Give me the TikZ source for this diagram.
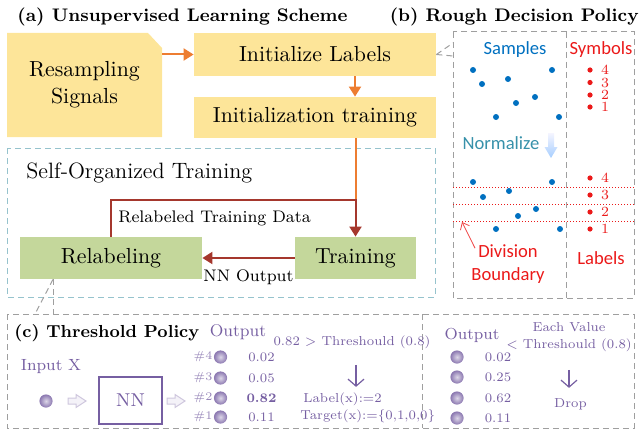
\documentclass[tikz,border=0pt]{standalone}
\usepackage{fontspec}
\newfontfamily\calibrifont{Carlito}
\usetikzlibrary{%
  arrows.meta,%
  calc,%
  positioning%
}
\definecolor{boxtan}{RGB}{253,229,153}
\definecolor{boxgreen}{RGB}{196,215,155}
\definecolor{flowor}{RGB}{237,125,49}
\definecolor{loopred}{RGB}{165,55,45}
\definecolor{teallight}{RGB}{150,195,205}
\definecolor{nnpurple}{RGB}{118,95,162}
\definecolor{dotblue}{RGB}{0,112,192}
\definecolor{symred}{RGB}{235,25,25}
\definecolor{normteal}{RGB}{55,145,170}
\tikzset{>=latex}
\tikzset{
  tanbox/.style={fill=boxtan, minimum width=121pt, inner sep=0pt,
    font=\fontsize{10.9}{13}\selectfont},
  greenbox/.style={fill=boxgreen, minimum height=21pt, inner sep=0pt,
    font=\fontsize{10.9}{13}\selectfont},
  titletext/.style={font=\fontsize{9.1}{11}\selectfont\bfseries, inner sep=0pt},
  plaintext/.style={font=\fontsize{8.4}{10}\selectfont, inner sep=0pt},
  sanstext/.style={font=\fontsize{9.3}{11.5}\selectfont\calibrifont,
    inner sep=0pt, align=center},
  numtext/.style={font=\fontsize{7}{8}\selectfont, text=symred, inner sep=0pt},
  purptext/.style={font=\fontsize{6.5}{8}\selectfont, text=nnpurple, inner sep=0pt},
  purpbig/.style={font=\fontsize{8.5}{10}\selectfont, text=nnpurple, inner sep=0pt},
  orangearr/.style={draw=flowor, line width=1pt, -{Triangle[length=5pt,width=6pt]}},
  redarr/.style={draw=loopred, line width=1pt, -{Triangle[length=5pt,width=6pt]}},
  greydash/.style={draw=gray!75, line width=0.5pt, dash pattern=on 3pt off 2pt},
  tealdash/.style={draw=teallight, line width=0.5pt, dash pattern=on 3pt off 2pt},
  reddots/.style={draw=symred, line width=0.5pt, densely dotted},
  redpointer/.style={draw=symred!80, line width=0.4pt, -{Straight Barb[length=3pt,width=5pt]}},
  purparr/.style={draw=nnpurple, line width=0.6pt, -{Straight Barb[length=3.5pt,width=8pt]}},
  blockarr/.style={fill=nnpurple!8, draw=nnpurple!35, line width=0.5pt},
  outball/.style={inner color=nnpurple!25, outer color=nnpurple!85}
}

\begin{document}
\begin{tikzpicture}[x=0.5pt,y=-0.5pt]
  \useasboundingbox (0,0) rectangle (640,433);

  % titles
  \node[titletext, anchor=west] (ta) at (17,17) {(a) Unsupervised Learning Scheme};
  \node[titletext, anchor=east] (tb) at (639,17) {(b) Rough Decision Policy};

  % (a) unsupervised learning scheme
  \fill[boxtan] (7,33) -- (148,33) -- (162,48) -- (162,137) -- (7,137) -- cycle;
  \node[font=\fontsize{10.9}{13.5}\selectfont, align=center, inner sep=0pt,
    minimum width=77.5pt, minimum height=52pt] (resamp) at (84.5,85) {Resampling\\Signals};
  \node[tanbox, minimum height=21.5pt] (init) at (315,54.5) {Initialize Labels};
  \node[tanbox, minimum height=20.5pt] (inittr) at (315,117.5) {Initialization training};
  \draw[orangearr] (resamp.east |- init.west) -- (init.west);
  \draw[orangearr] ([xshift=20pt]init.south) -- ([xshift=20pt]inittr.north);

  \draw[tealdash] (7,148) rectangle (435,297);
  \node[font=\fontsize{11.1}{13}\selectfont, inner sep=0pt, anchor=west] (selforg)
    at (26,173) {Self-Organized Training};
  \node[greenbox, minimum width=60.5pt] (train) at (355.5,258) {Training};
  \node[greenbox, minimum width=91pt] (relab) at (111,258) {Relabeling};
  \coordinate (turn) at (355.5,200);
  \draw[draw=flowor, line width=1pt] ([xshift=20.25pt]inittr.south) -- (turn);
  \draw[redarr] (relab.north) |- (turn) -- (train.north);
  \draw[redarr] (train.west) -- (relab.east);
  \node[plaintext, anchor=west] (reldata) at (118,218) {Relabeled Training Data};
  \node[plaintext, anchor=west] (nnout) at (203,277) {NN Output};

  % callouts
  \draw[greydash] (init.east) -- (453,43);
  \draw[greydash] (init.east) -- (453,56);
  \draw[greydash] ([xshift=-29pt]relab.south) -- (35,314);
  \draw[greydash] ([xshift=-29pt]relab.south) -- (53,314);

  % (b) rough decision policy
  \draw[greydash] (453,32) rectangle (634,298);
  \draw[greydash] (566,32) -- (566,298);
  \node[sanstext, text=dotblue] (samples) at (515,50) {Samples};
  \node[sanstext, text=symred] (symbols) at (601,50) {Symbols};
  \foreach \px/\py in {473/70,482/84,508/79,552/70,516/103,535/97,496/117,559/117}
    \fill[dotblue] (\px,\py) circle (1.5pt);
  \foreach \n/\py in {4/70,3/82.5,2/95,1/107}{
    \fill[symred] (590,\py) circle (1.3pt);
    \node[numtext] at (605,\py) {\n};
  }
  \node[sanstext, text=normteal] (norm) at (501,143) {Normalize};
  \shade[top color=blue!4, bottom color=cyan!45!blue!35] (548,133) -- (554,133) -- (554,147)
    -- (557.5,147) -- (551,158) -- (544.5,147) -- (548,147) -- cycle;
  \foreach \py in {187,204,221}
    \draw[reddots] (453,\py) -- (634,\py);
  \foreach \px/\py in {473/182,483/197,509/191,552/182,518/216,536/209,496/229,560/229}
    \fill[dotblue] (\px,\py) circle (1.5pt);
  \foreach \n/\py in {4/178,3/195,2/212,1/229}{
    \fill[symred] (590,\py) circle (1.3pt);
    \node[numtext] at (605,\py) {\n};
  }
  \node[sanstext, text=symred] (divb) at (508,264) {Division\\Boundary};
  \coordinate (divpt) at (462,222);
  \draw[redpointer] ([shift={(2pt,-2pt)}]divb.north west) -- (divpt);
  \node[sanstext, text=symred] (labels) at (601,258) {Labels};

  % (c) threshold policy
  \draw[greydash] (7,314) rectangle (634,428);
  \draw[greydash] (422,314) -- (422,428);
  \node[titletext, font=\fontsize{8.7}{11}\selectfont\bfseries, anchor=west] (tc)
    at (14,333) {(c) Threshold Policy};
  \node[purpbig] (outa) at (238,332) {Output};
  \node[purpbig, font=\fontsize{8.1}{10}\selectfont] (inx) at (51,367) {Input X};
  \shade[outball] (46,401) circle (3.3pt);
  \foreach \bx in {68,167}
    \draw[blockarr] (\bx,398) -- ++(8,0) -- ++(0,-3.5) -- ++(10,6.5) -- ++(-10,6.5)
      -- ++(0,-3.5) -- ++(-8,0) -- cycle;
  \node[draw=nnpurple, line width=1.2pt, minimum width=31.5pt, minimum height=23.5pt,
    font=\fontsize{9.3}{11}\selectfont, text=nnpurple] (nn) at (130.5,400.5) {NN};
  \foreach \n/\py/\v in {4/357/0.02,3/378/0.05,2/398/\textbf{0.82},1/417/0.11}{
    \node[purptext, font=\fontsize{5.8}{7}\selectfont, text=nnpurple!75] at (203,\py) {\#\n};
    \shade[outball] (220.5,\py) circle (3.3pt);
    \node[purptext] at (261.5,\py) {\v};
  }
  \node[purptext] (thr) at (352,342) {0.82 > Threshould (0.8)};
  \node[purptext, anchor=west] (lab) at (303,399) {Label(x):=2};
  \node[purptext, anchor=west] (tgt) at (300,416) {Target(x):=\{0,1,0,0\}};
  \draw[purparr] ([shift={(2pt,-8pt)}]thr.south) -- ++(0,22);

  \node[purpbig, font=\fontsize{8}{10}\selectfont] (outb) at (472,335) {Output};
  \foreach \py/\v in {357/0.02,377/0.25,398/0.62,418/0.11}{
    \shade[outball] (457,\py) circle (3.3pt);
    \node[purptext] at (498,\py) {\v};
  }
  \node[purptext] (each) at (569,327) {Each Value};
  \node[purptext] (lthr) at (569,345) {< Threshould (0.8)};
  \node[purptext] (drop) at (570.5,404) {Drop};
  \draw[purparr] ([yshift=-9pt]lthr.south) -- ++(0,18);
\end{tikzpicture}
\end{document}
